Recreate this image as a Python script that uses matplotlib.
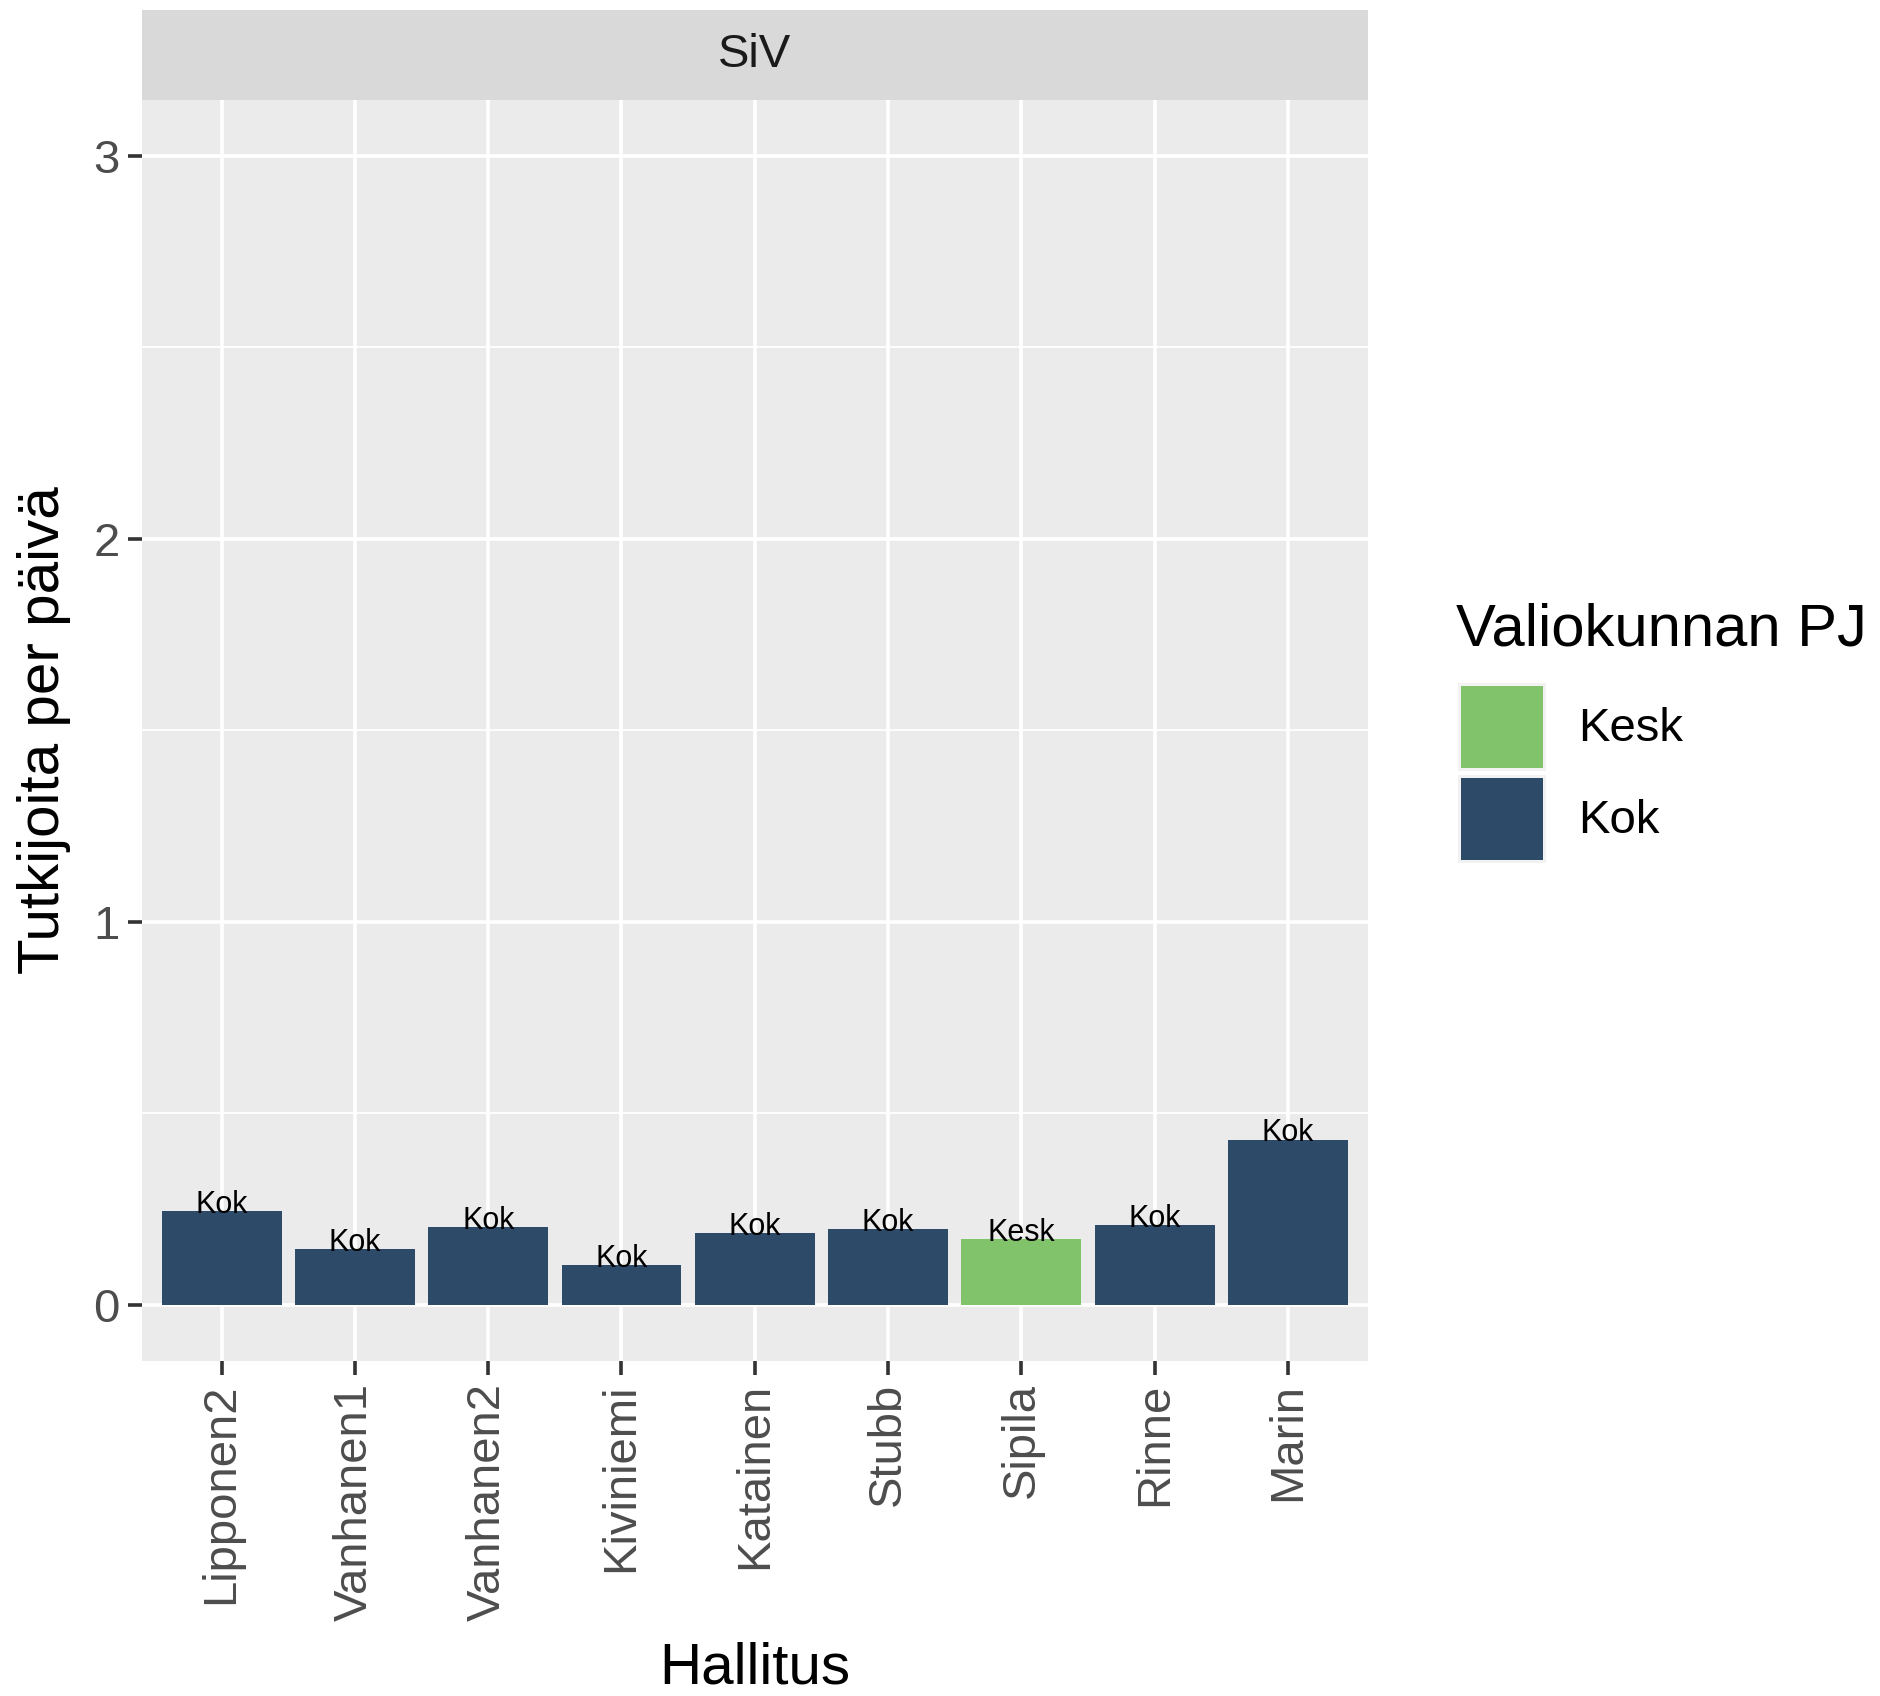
import matplotlib
matplotlib.use("Agg")
import matplotlib.pyplot as plt
from matplotlib.patches import Rectangle
from matplotlib.ticker import MultipleLocator

plt.rcParams['font.family'] = ['Liberation Sans', 'DejaVu Sans']

governments = ["Lipponen2", "Vanhanen1", "Vanhanen2", "Kiviniemi", "Katainen",
               "Stubb", "Sipila", "Rinne", "Marin"]
values = [0.244, 0.145, 0.202, 0.103, 0.186, 0.197, 0.171, 0.207, 0.430]
chair_party = ["Kok", "Kok", "Kok", "Kok", "Kok", "Kok", "Kesk", "Kok", "Kok"]
party_colors = {"Kesk": "#81C36B", "Kok": "#2E4A69"}
legend_parties = ["Kesk", "Kok"]
facet_title = "SiV"

W, H = 1881, 1696
fig = plt.figure(figsize=(W / 100, H / 100), dpi=100)

def fx(px):
    return px / W

def fy(py):
    return 1 - py / H

left, right = 141.6, 1368
top, bottom = 99.6, 1360.8
ax = fig.add_axes([fx(left), fy(bottom), fx(right - left), (bottom - top) / H])
ax.set_facecolor("#EBEBEB")

x = list(range(len(governments)))
colors = [party_colors[p] for p in chair_party]
ax.bar(x, values, width=0.9, color=colors, zorder=3)
for xi, v, p in zip(x, values, chair_party):
    ax.text(xi, v - 0.004, p, ha="center", va="baseline", fontsize=22, color="black", zorder=4)

ax.set_xlim(-0.6, len(governments) - 0.4)
ax.set_ylim(-0.147, 3.147)
ax.yaxis.set_major_locator(MultipleLocator(1))
ax.yaxis.set_minor_locator(MultipleLocator(0.5))
ax.set_xticks(x)
ax.set_xticklabels(governments, rotation=90, ha="center", va="top")
ax.set_yticks([0, 1, 2, 3])
ax.set_yticklabels(["0", "1", "2", "3"])

ax.grid(which="major", color="white", linewidth=2.6, zorder=0)
ax.grid(which="minor", axis="y", color="white", linewidth=1.3, zorder=0)
ax.set_axisbelow(True)
for s in ax.spines.values():
    s.set_visible(False)
ax.tick_params(axis="both", which="major", length=10, width=2.6, color="#333333",
               labelsize=34, labelcolor="#4D4D4D", pad=6)
ax.tick_params(axis="y", which="minor", length=0)

ax.set_ylabel("Tutkijoita per päivä", fontsize=42, labelpad=16)
ax.set_xlabel("Hallitus", fontsize=42, labelpad=15)

# facet strip
strip = Rectangle((fx(left), fy(top)), fx(right - left), (top - 9.6) / H,
                  transform=fig.transFigure, facecolor="#D9D9D9", edgecolor="none")
fig.add_artist(strip)
fig.text(fx((left + right) / 2), fy((top + 9.6) / 2), facet_title, ha="center", va="center",
         fontsize=34, color="#1A1A1A")

# legend
fig.text(fx(1456), fy(630), "Valiokunnan PJ", ha="left", va="center", fontsize=43)
key_tops = [683, 775]
for p, kt in zip(legend_parties, key_tops):
    r = Rectangle((fx(1458), fy(kt + 88)), fx(88), 88 / H, transform=fig.transFigure,
                  facecolor="#F2F2F2", edgecolor="none")
    fig.add_artist(r)
    r2 = Rectangle((fx(1461), fy(kt + 85)), fx(82), 82 / H, transform=fig.transFigure,
                   facecolor=party_colors[p], edgecolor="none")
    fig.add_artist(r2)
    fig.text(fx(1578), fy(kt + 46), p, ha="left", va="center", fontsize=34)

fig.savefig("out.png", dpi=100)
